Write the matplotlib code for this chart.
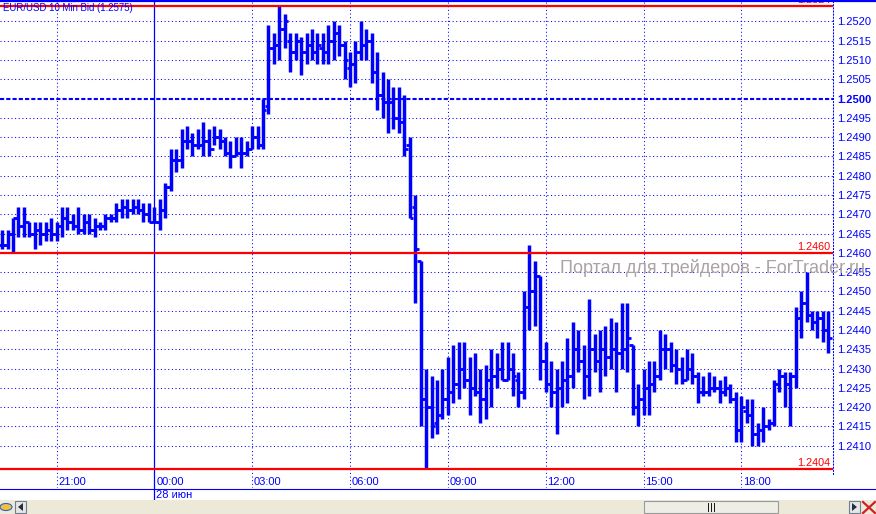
import numpy as np
import matplotlib
matplotlib.use("Agg")
import matplotlib.pyplot as plt
import matplotlib.transforms as mtransforms
from matplotlib.lines import Line2D
from matplotlib.patches import Rectangle, Polygon, Circle

# EUR/USD 10 min bars, values in pips above BASE
BASE = 1.2400
HIGH = [66, 66, 69, 72, 72, 68, 68, 68, 68, 69,
        68, 72, 72, 70, 72, 70, 70, 69, 68, 70,
        70, 73, 74, 74, 74, 74, 73, 73, 72, 74,
        78, 87, 87, 92, 93, 91, 92, 94, 92, 93,
        92, 90, 89, 90, 90, 89, 93, 93, 100, 119,
        117, 124, 122, 117, 117, 116, 117, 118, 117, 117,
        119, 120, 119, 115, 112, 115, 120, 118, 117, 112,
        107, 105, 103, 103, 101, 90, 75, 58, 30, 28,
        27, 30, 33, 36, 37, 37, 33, 34, 30, 31,
        35, 34, 37, 37, 34, 29, 50, 62, 58, 54,
        37, 32, 30, 32, 38, 42, 40, 36, 48, 39,
        40, 41, 43, 42, 47, 47, 36, 26, 30, 32,
        32, 40, 39, 37, 35, 33, 35, 34, 29, 28,
        29, 28, 27, 28, 26, 24, 23, 22, 22, 16,
        20, 17, 27, 30, 29, 29, 46, 50, 55, 45,
        45, 45, 45]
LOW = [61, 61, 60, 64, 64, 64, 61, 62, 63, 63,
       63, 64, 66, 66, 65, 65, 65, 64, 66, 66,
       68, 68, 69, 69, 70, 70, 68, 68, 68, 66,
       69, 76, 81, 82, 87, 85, 87, 85, 85, 88,
       87, 85, 82, 85, 82, 85, 87, 87, 87, 96,
       109, 110, 113, 107, 110, 106, 109, 110, 109, 109,
       109, 110, 111, 105, 103, 104, 110, 110, 104, 97,
       95, 91, 92, 91, 85, 69, 47, 15, 4, 12,
       13, 17, 18, 21, 22, 25, 18, 23, 16, 17,
       20, 25, 27, 27, 23, 20, 22, 40, 41, 27,
       24, 20, 13, 20, 21, 25, 29, 22, 23, 29,
       24, 28, 30, 24, 30, 29, 18, 15, 18, 18,
       24, 27, 30, 29, 26, 26, 27, 26, 21, 23,
       23, 24, 21, 23, 21, 11, 11, 16, 10, 10,
       11, 14, 15, 24, 20, 15, 25, 38, 42, 40,
       38, 37, 34]
OPEN = [62, 62, 65, 69, 67, 68, 65, 66, 65, 66,
        65, 67, 69, 68, 67, 66, 68, 66, 67, 67,
        69, 69, 71, 72, 71, 72, 71, 70, 68, 68,
        71, 77, 84, 84, 89, 89, 88, 88, 89, 87,
        90, 89, 86, 85, 86, 86, 87, 90, 88, 98,
        113, 114, 118, 115, 112, 115, 112, 114, 112, 113,
        112, 115, 117, 114, 108, 109, 112, 114, 115, 107,
        101, 99, 99, 95, 94, 88, 72, 58, 22, 20,
        16, 18, 22, 24, 26, 30, 27, 25, 24, 22,
        27, 28, 30, 27, 30, 27, 24, 46, 50, 54,
        32, 26, 24, 25, 27, 28, 35, 32, 28, 35,
        32, 35, 33, 35, 34, 35, 36, 20, 22, 25,
        26, 28, 35, 35, 31, 30, 27, 30, 28, 24,
        24, 25, 25, 24, 25, 22, 14, 19, 18, 13,
        14, 15, 16, 26, 28, 26, 28, 43, 47, 44,
        42, 43, 40]
CLOSE = [62, 65, 69, 67, 68, 65, 66, 65, 66, 65,
         67, 69, 68, 67, 66, 68, 66, 67, 67, 69,
         69, 71, 72, 71, 72, 71, 70, 68, 68, 71,
         77, 84, 84, 89, 89, 88, 88, 89, 87, 90,
         89, 86, 85, 86, 86, 87, 90, 88, 97, 113,
         114, 118, 120, 112, 115, 112, 114, 112, 114, 112,
         115, 117, 114, 110, 109, 112, 114, 115, 107, 101,
         99, 99, 95, 94, 87, 69, 61, 22, 20, 15,
         18, 22, 24, 26, 30, 27, 25, 24, 22, 27,
         28, 30, 27, 30, 28, 24, 46, 50, 54, 32,
         26, 24, 25, 27, 28, 35, 32, 28, 35, 32,
         35, 33, 35, 34, 35, 38, 20, 22, 25, 26,
         28, 35, 35, 31, 30, 27, 30, 28, 24, 24,
         25, 25, 24, 25, 22, 14, 20, 18, 13, 14,
         15, 16, 26, 28, 26, 28, 43, 47, 44, 42,
         43, 40, 38]

# time labels (bar number where they fall)
TIME_BARS = [11, 29, 47, 65, 83, 101, 119, 137]
TIME_LABELS = ["21:00", "00:00", "03:00", "06:00", "09:00", "12:00", "15:00", "18:00"]
DAY_BAR = 29
DAY_LABEL = "28 июн"

PRICE_TICKS = [1.2410, 1.2415, 1.2420, 1.2425, 1.2430, 1.2435, 1.2440, 1.2445,
               1.2450, 1.2455, 1.2460, 1.2465, 1.2470, 1.2475, 1.2480, 1.2485,
               1.2490, 1.2495, 1.2500, 1.2505, 1.2510, 1.2515, 1.2520]
RED_LEVELS = [1.2524, 1.2460, 1.2404]
TITLE = "EUR/USD 10 Min Bid (1.2575)"
WATERMARK = "Портал для трейдеров - ForTrader.ru"

BLUE = "#0000FF"
RED = "#FF0000"
FONT = "Liberation Sans"

W, H = 876, 514
fig = plt.figure(figsize=(W / 100, H / 100), dpi=100)
fig.patch.set_facecolor("white")


def fx(px):
    return px / W


def fy(py):
    return 1 - py / H


ax = fig.add_axes([0, fy(488), fx(833), 488 / H])
ax.set_facecolor("white")

x = np.arange(1, len(HIGH) + 1)
hi = BASE + np.array(HIGH) / 10000
lo = BASE + np.array(LOW) / 10000
op = BASE + np.array(OPEN) / 10000
cl = BASE + np.array(CLOSE) / 10000

ax.set_xlim(0.6, 0.6 + 833 / 5.435)
ax.set_ylim(1.239905, 1.252557)

# grid
for p in PRICE_TICKS:
    if p == 1.25:
        ax.axhline(p, color=BLUE, lw=1.5, ls=(0, (2, 1)), zorder=1)
    else:
        ax.axhline(p, color=BLUE, lw=0.75, ls=(0, (1, 2.5)), zorder=1)
for t in TIME_BARS:
    if t == DAY_BAR:
        continue
    ax.axvline(t, color=BLUE, lw=0.75, ls=(0, (1, 2.5)), zorder=1)
ax.axvline(DAY_BAR, color=BLUE, lw=0.9, ymin=-0.025, ymax=1, clip_on=False, zorder=1)

# OHLC bars
ax.vlines(x, lo, hi, color=BLUE, lw=2.5, zorder=3)
ax.hlines(op, x - 0.62, x, color=BLUE, lw=2.0, zorder=3)
ax.hlines(cl, x, x + 0.62, color=BLUE, lw=2.0, zorder=3)

# red levels
trans = mtransforms.blended_transform_factory(ax.transAxes, ax.transData)
for lvl in RED_LEVELS:
    ax.axhline(lvl, color=RED, lw=1.6, zorder=4)
    ax.text(0.997, lvl + 0.00003, f"{lvl:.4f}", transform=trans, ha="right", va="bottom",
            color=RED, fontsize=7.8, family=FONT, zorder=5, clip_on=False)

# axes
for s in ["top", "left", "bottom"]:
    ax.spines[s].set_visible(False)
ax.spines["right"].set_color(BLUE)
ax.spines["right"].set_linestyle((0, (1, 2)))
ax.spines["right"].set_linewidth(0.75)
ax.spines["right"].set_bounds(1.24027, 1.252557)
ax.yaxis.tick_right()
ax.set_yticks(PRICE_TICKS, labels=[f"{p:.4f}" for p in PRICE_TICKS])
ax.tick_params(axis="y", length=0, pad=3, labelsize=8, labelcolor=BLUE)
for lab in ax.get_yticklabels():
    lab.set_family(FONT)
    if lab.get_text() == "1.2500":
        lab.set_fontweight("bold")
ax.set_xticks([])

tx = mtransforms.blended_transform_factory(ax.transData, ax.transAxes)
for t, s in zip(TIME_BARS, TIME_LABELS):
    ax.text(t + 0.35, 6 / 488, s, transform=tx, ha="left", va="center",
            color=BLUE, fontsize=8, family=FONT)
ax.text(DAY_BAR + 0.35, -7 / 488, DAY_LABEL, transform=tx, ha="left", va="center",
        color=BLUE, fontsize=8, family=FONT, clip_on=False)

# frame lines
fig.add_artist(Line2D([0, 1], [fy(488.5)] * 2, transform=fig.transFigure, color=BLUE, lw=0.8))
fig.add_artist(Line2D([0, 1], [fy(1)] * 2, transform=fig.transFigure, color=BLUE, lw=1.6))

# title and watermark
fig.text(fx(3), fy(8), TITLE, color=BLUE, fontsize=6.9, family=FONT, va="center", ha="left", zorder=10)
fig.text(fx(560), fy(268), WATERMARK, color="#ABA3A3", fontsize=13, family=FONT,
         va="center", ha="left", zorder=10)

# scrollbar strip
fig.add_artist(Rectangle((0, 0), 1, fy(500), transform=fig.transFigure,
                         facecolor="#ECE9D8", edgecolor="none"))
fig.add_artist(Rectangle((fx(644), fy(513)), fx(134), 12 / H, transform=fig.transFigure,
                         facecolor="#EFEEE6", edgecolor="#9A9A9A", lw=0.8))
fig.text(fx(711), fy(507), "|||", color="black", fontsize=6, fontweight="bold",
         ha="center", va="center")
fig.add_artist(Rectangle((fx(849), fy(513)), fx(11), 12 / H, transform=fig.transFigure,
                         facecolor="#E6E6E6", edgecolor="#6F7F8F", lw=0.8))
fig.add_artist(Polygon([[fx(852), fy(503)], [fx(852), fy(511)], [fx(857), fy(507)]],
                       transform=fig.transFigure, facecolor="#203040", edgecolor="none"))
fig.add_artist(Line2D([fx(863), fx(875)], [fy(502), fy(513)], transform=fig.transFigure, color="#D02020", lw=1.6))
fig.add_artist(Line2D([fx(863), fx(875)], [fy(513), fy(502)], transform=fig.transFigure, color="#D02020", lw=1.6))
fig.add_artist(Rectangle((fx(15), fy(513)), fx(11), 12 / H, transform=fig.transFigure,
                         facecolor="#E6E6E6", edgecolor="#6F7F8F", lw=0.8))
fig.add_artist(Polygon([[fx(23), fy(503)], [fx(23), fy(511)], [fx(18), fy(507)]],
                       transform=fig.transFigure, facecolor="#203040", edgecolor="none"))
fig.add_artist(Circle((fx(6), fy(507)), fx(6), transform=fig.transFigure,
                      facecolor="#F0C040", edgecolor="#3060C0", lw=0.8))

fig.savefig("out.png", dpi=100)
